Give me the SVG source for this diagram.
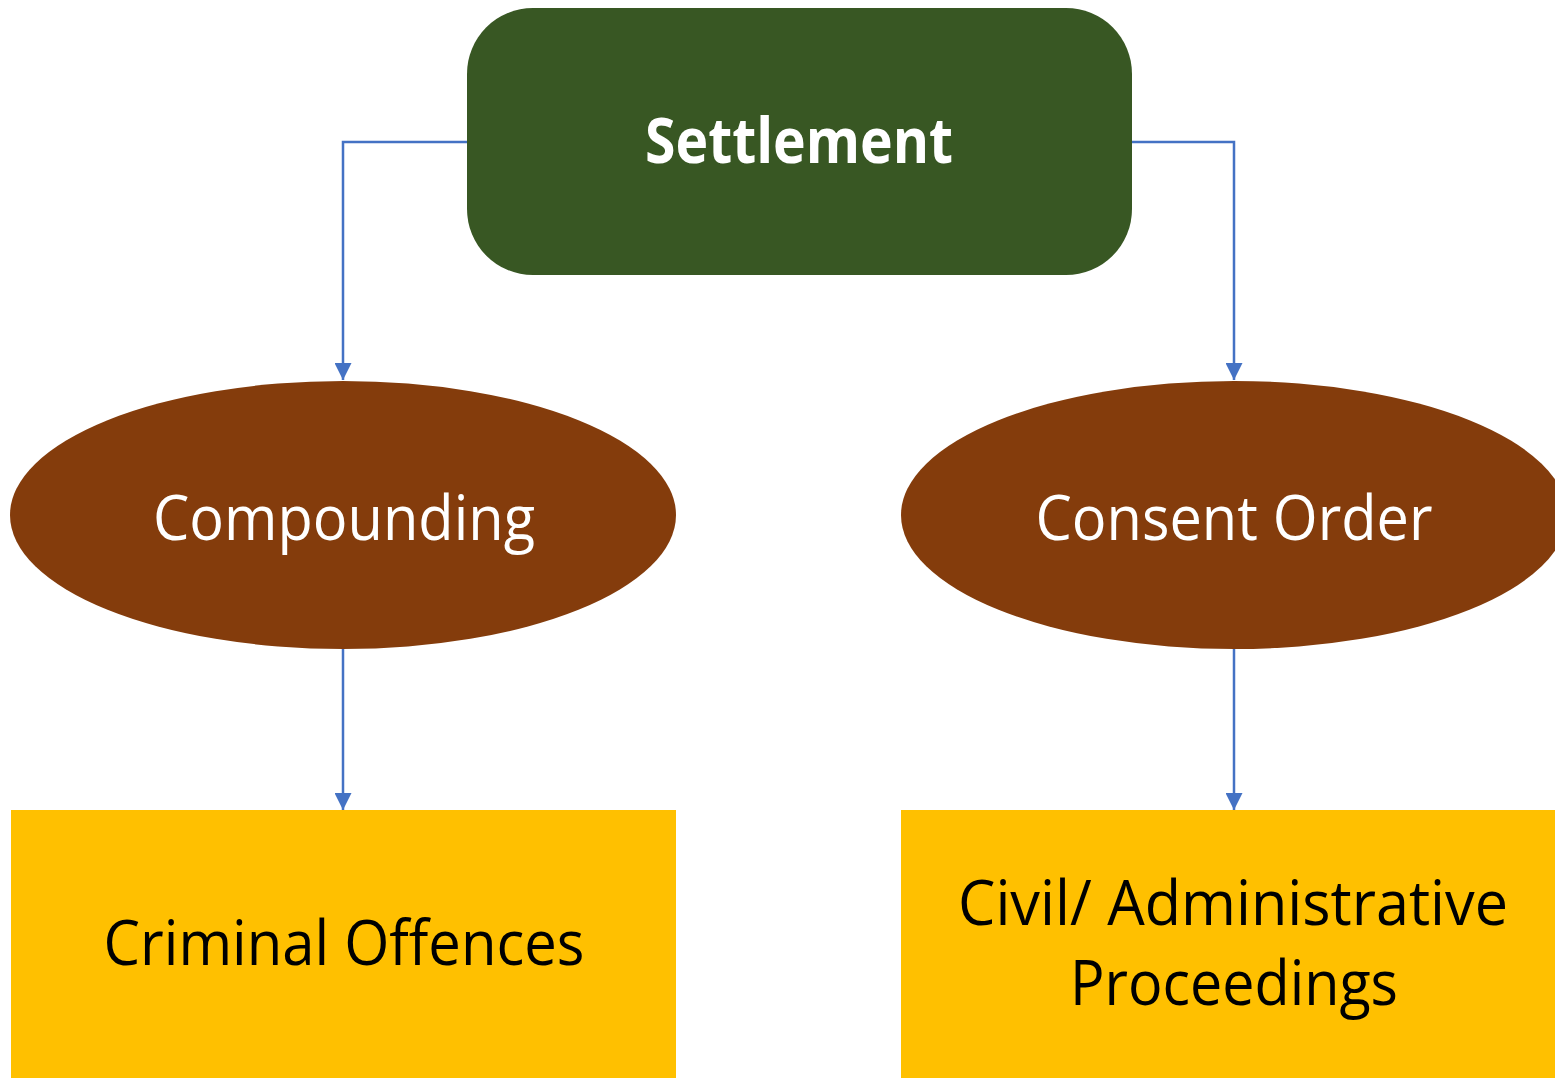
<svg xmlns="http://www.w3.org/2000/svg" width="1555" height="1078" viewBox="0 0 1555 1078">
  <style>
    .lbl { font-family: "Open Sans", "Noto Sans", "Liberation Sans", sans-serif; font-size: 63px; text-anchor: middle; }
    .w { fill: #ffffff; }
    .k { fill: #000000; }
    .conn { fill: none; stroke: #4472C4; stroke-width: 2.5; }
  </style>
  <defs>
    <marker id="arr" viewBox="0 0 10 10" refX="10" refY="5" markerWidth="17" markerHeight="17" markerUnits="userSpaceOnUse" orient="auto">
      <path d="M0,0 L10,5 L0,10 Z" fill="#4472C4"/>
    </marker>
  </defs>
  <rect width="1555" height="1078" fill="#ffffff"/>
  <g id="connectors">
    <path class="conn" d="M467,142 H343 V380" marker-end="url(#arr)"/>
    <path class="conn" d="M1132,142 H1234 V380" marker-end="url(#arr)"/>
    <path class="conn" d="M343,649 V810" marker-end="url(#arr)"/>
    <path class="conn" d="M1234,649 V810" marker-end="url(#arr)"/>
  </g>
  <g id="settlement">
    <rect x="467" y="8" width="665" height="267" rx="66" ry="66" fill="#385723"/>
    <text class="lbl w" x="799" y="163" font-size="60" font-weight="bold" textLength="308" lengthAdjust="spacingAndGlyphs">Settlement</text>
  </g>
  <g id="compounding">
    <ellipse cx="343" cy="515" rx="333" ry="134" fill="#843C0C"/>
    <text class="lbl w" x="344" y="540" textLength="382" lengthAdjust="spacingAndGlyphs">Compounding</text>
  </g>
  <g id="consent-order">
    <ellipse cx="1234" cy="515" rx="333" ry="134" fill="#843C0C"/>
    <text class="lbl w" x="1234" y="540" textLength="397" lengthAdjust="spacingAndGlyphs">Consent Order</text>
  </g>
  <g id="criminal-offences">
    <rect x="11" y="810" width="665" height="280" fill="#FFC000"/>
    <text class="lbl k" x="344" y="965" textLength="481" lengthAdjust="spacingAndGlyphs">Criminal Offences</text>
  </g>
  <g id="civil-admin">
    <rect x="901" y="810" width="665" height="280" fill="#FFC000"/>
    <text class="lbl k" x="1233" y="925" textLength="550" lengthAdjust="spacingAndGlyphs">Civil/ Administrative</text>
    <text class="lbl k" x="1234" y="1005" textLength="328" lengthAdjust="spacingAndGlyphs">Proceedings</text>
  </g>
</svg>
